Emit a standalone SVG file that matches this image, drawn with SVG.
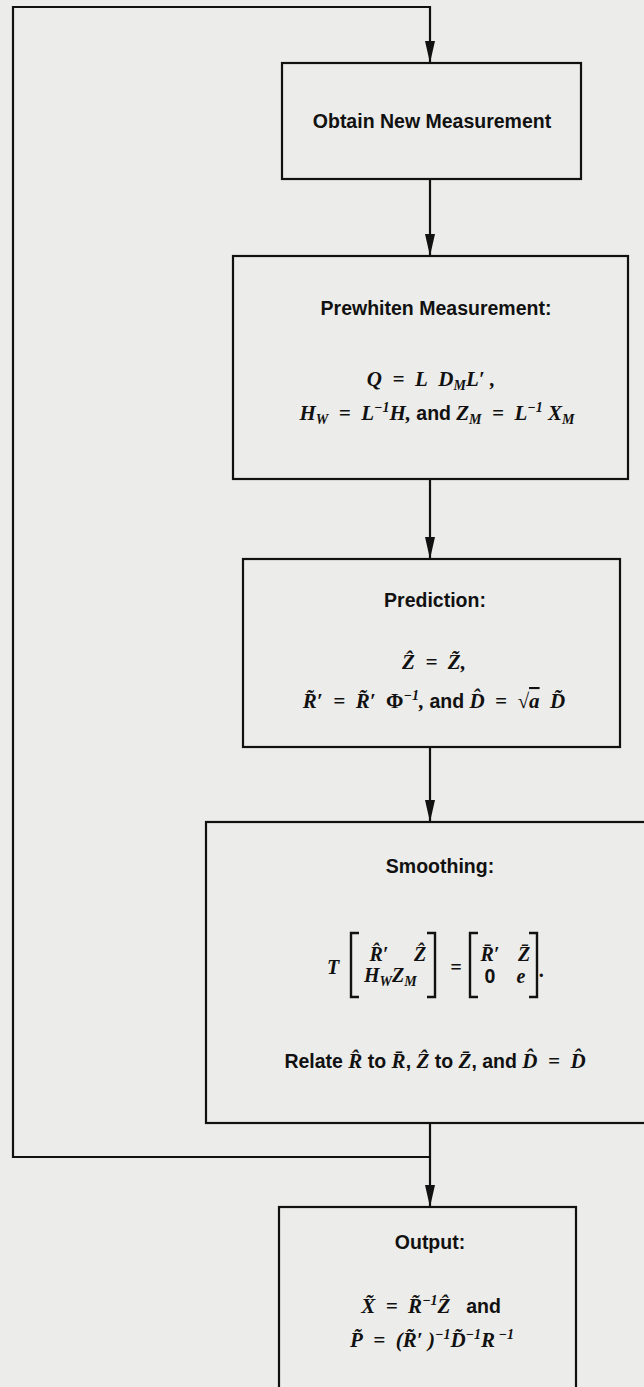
<svg xmlns="http://www.w3.org/2000/svg" width="644" height="1387" viewBox="0 0 644 1387">
<style>
.bg{fill:#ececea}
.box{fill:#ececea;stroke:#111;stroke-width:2.2}
.edge{fill:none;stroke:#111;stroke-width:2.2}
.br{fill:none;stroke:#111;stroke-width:2.4}
.t{font-family:"Liberation Sans",Arial,sans-serif;font-weight:bold;font-size:19.5px;fill:#111}
.m{font-family:"Liberation Serif","Times New Roman",serif;font-style:italic;font-weight:bold;font-size:21px;fill:#111}
.mm{font-family:"Liberation Serif","Times New Roman",serif;font-style:italic;font-weight:bold;font-size:20px;fill:#111}
.up{font-family:"Liberation Sans",Arial,sans-serif;font-style:normal;font-weight:bold;font-size:19.5px}
.gr{font-style:normal}
.s{font-size:14px}
</style>
<defs>
<marker id="ah" viewBox="0 0 22 10" refX="22" refY="5" markerWidth="22" markerHeight="10" markerUnits="userSpaceOnUse" orient="auto">
<path d="M0,0 L22,5 L0,10 z" fill="#111"/>
</marker>
</defs>
<rect class="bg" x="0" y="0" width="644" height="1387"/>

<g id="connectors">
<path class="edge" d="M430,1157 H13 V7 H430 V63" marker-end="url(#ah)"/>
<path class="edge" d="M430,179 V256" marker-end="url(#ah)"/>
<path class="edge" d="M430,479 V559" marker-end="url(#ah)"/>
<path class="edge" d="M430,747 V822" marker-end="url(#ah)"/>
<path class="edge" d="M430,1123 V1207" marker-end="url(#ah)"/>
</g>

<g id="obtain">
<rect class="box" x="282" y="63" width="299" height="116"/>
<text class="t" x="432" y="128" text-anchor="middle">Obtain New Measurement</text>
</g>

<g id="prewhiten">
<rect class="box" x="233" y="256" width="395" height="223"/>
<text class="t" x="436" y="315" text-anchor="middle">Prewhiten Measurement:</text>
<text class="m" x="431" y="386" text-anchor="middle">Q&#160;&#160;=&#160;&#160;L&#160;&#160;D<tspan class="s" dy="4">M</tspan><tspan dy="-4">L′&#160;,</tspan></text>
<text class="m" x="437" y="420" text-anchor="middle">H<tspan class="s" dy="4">W</tspan><tspan dy="-4">&#160;&#160;=&#160;&#160;L</tspan><tspan class="s" dy="-8">−1</tspan><tspan dy="8">H,&#160;</tspan><tspan class="up">and</tspan>&#160;Z<tspan class="s" dy="4">M</tspan><tspan dy="-4">&#160;&#160;=&#160;&#160;L</tspan><tspan class="s" dy="-8">−1</tspan><tspan dy="8">&#160;X</tspan><tspan class="s" dy="4">M</tspan></text>
</g>

<g id="prediction">
<rect class="box" x="243" y="559" width="377" height="188"/>
<text class="t" x="435" y="607" text-anchor="middle">Prediction:</text>
<text class="m" x="434" y="669" text-anchor="middle">Ẑ&#160;&#160;=&#160;&#160;Z̃,</text>
<text class="m" x="434" y="708" text-anchor="middle">R̃′&#160;&#160;=&#160;&#160;R̃′&#160;&#160;<tspan class="gr">Φ</tspan><tspan class="s" dy="-8">−1</tspan><tspan dy="8">,&#160;</tspan><tspan class="up">and</tspan>&#160;D̂&#160;&#160;=&#160;&#160;√<tspan text-decoration="overline">a</tspan>&#160;&#160;D̃</text>
</g>

<g id="smoothing">
<rect class="box" x="206" y="822" width="460" height="301"/>
<text class="t" x="440" y="873" text-anchor="middle">Smoothing:</text>
<text class="mm" x="333" y="974" text-anchor="middle">T</text>
<path class="br" d="M359,933 H351 V997 H359"/>
<path class="br" d="M427,933 H435 V997 H427"/>
<text class="mm" x="379" y="961" text-anchor="middle">R̂′</text>
<text class="mm" x="420" y="961" text-anchor="middle">Ẑ</text>
<text class="mm" x="364" y="982">H<tspan class="s" dy="4">W</tspan><tspan dy="-4">Z</tspan><tspan class="s" dy="4">M</tspan></text>
<text class="mm" x="456" y="974" text-anchor="middle">=</text>
<path class="br" d="M478,933 H470 V997 H478"/>
<path class="br" d="M529,933 H537 V997 H529"/>
<text class="mm" x="490" y="961" text-anchor="middle">R̄′</text>
<text class="mm" x="524" y="961" text-anchor="middle">Z̄</text>
<text class="mm" x="490" y="983" text-anchor="middle"><tspan class="up">0</tspan></text>
<text class="mm" x="521" y="983" text-anchor="middle">e</text>
<text class="mm" x="542" y="977" text-anchor="middle">.</text>
<text class="t" x="435" y="1068" text-anchor="middle">Relate <tspan class="m">R̂</tspan>&#160;to&#160;<tspan class="m">R̄</tspan>,&#160;<tspan class="m">Ẑ</tspan>&#160;to&#160;<tspan class="m">Z̄</tspan>, and&#160;<tspan class="m">D̂&#160;&#160;=&#160;&#160;D̂</tspan></text>
</g>

<g id="output">
<rect class="box" x="279" y="1207" width="297" height="200"/>
<text class="t" x="430" y="1249" text-anchor="middle">Output:</text>
<text class="m" x="431" y="1313" text-anchor="middle">X̃&#160;&#160;=&#160;&#160;R̃<tspan class="s" dy="-8">−1</tspan><tspan dy="8">Ẑ&#160;&#160;&#160;</tspan><tspan class="up">and</tspan></text>
<text class="m" x="432" y="1347" text-anchor="middle">P̃&#160;&#160;=&#160;&#160;(R̃′&#160;)<tspan class="s" dy="-8">−1</tspan><tspan dy="8">D̃</tspan><tspan class="s" dy="-8">−1</tspan><tspan dy="8">R</tspan><tspan class="s" dy="-8">&#160;−1</tspan></text>
</g>
</svg>
